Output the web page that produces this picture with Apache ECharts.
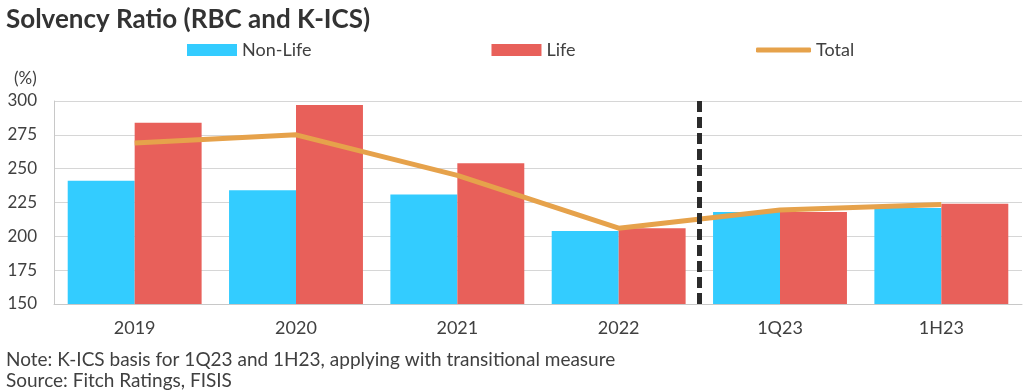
<!DOCTYPE html>
<html><head><meta charset="utf-8">
<script src="https://cdn.jsdelivr.net/npm/echarts@6/dist/echarts.min.js"></script>
<style>html,body{margin:0;padding:0;background:#fff}#c{width:1024px;height:390px}</style>
</head><body><div id="c"></div>
<script>
const categories = ['2019','2020','2021','2022','1Q23','1H23'];
const nonLife = [241, 234, 231, 204, 218, 221];
const life = [284, 297, 254, 206, 218, 224];
const total = [269, 275, 245, 206, 219.5, 223.5];
const yTicks = [150, 175, 200, 225, 250, 275, 300];
const dividerPosition = [4];

const font = 'Lato, "Noto Sans", sans-serif';
const txt = '#404040';
const chart = echarts.init(document.getElementById('c'));
chart.setOption({
  animation: false,
  textStyle: {fontFamily: font},
  title: [
    {text: 'Solvency Ratio (RBC and K-ICS)', left: 1, top: 2,
     textStyle: {fontFamily: font, fontSize: 26, fontWeight: 'bold', color: '#333'}},
    {text: '(%)', left: 9, top: 65, textStyle: {fontFamily: font, fontSize: 17, fontWeight: 'normal', color: txt}},
    {text: 'Note: K-ICS basis for 1Q23 and 1H23, applying with transitional measure', left: 1, top: 345,
     textStyle: {fontFamily: font, fontSize: 19, fontWeight: 'normal', color: txt}},
    {text: 'Source: Fitch Ratings, FISIS', left: 1, top: 366,
     textStyle: {fontFamily: font, fontSize: 19, fontWeight: 'normal', color: txt}}
  ],
  legend: [
    {top: 36, left: 182, itemGap: 180, itemWidth: 50, itemHeight: 12,
     textStyle: {fontFamily: font, fontSize: 18, color: txt},
     data: [{name: 'Non-Life', icon: 'rect'}, {name: 'Life', icon: 'rect'}]},
    {top: 36, left: 751, itemWidth: 55, itemHeight: 5,
     textStyle: {fontFamily: font, fontSize: 18, color: txt},
     data: [{name: 'Total', icon: 'roundRect'}]}
  ],
  grid: {left: 54, right: 2, top: 101, bottom: 86},
  xAxis: [
    {type: 'category', data: categories,
     axisLine: {lineStyle: {color: '#c8c8c8'}}, axisTick: {show: false},
     axisLabel: {fontFamily: font, fontSize: 18, color: txt, margin: 15}},
    {type: 'value', min: 0, max: categories.length, show: false}
  ],
  yAxis: {type: 'value', min: yTicks[0], max: yTicks[yTicks.length-1], interval: 25,
    axisLine: {show: true, lineStyle: {color: '#c8c8c8'}}, axisTick: {show: false},
    splitLine: {lineStyle: {color: '#d6d6d6', width: 1}},
    axisLabel: {fontFamily: font, fontSize: 17, color: txt, margin: 17}},
  series: [
    {name: 'Non-Life', type: 'bar', data: nonLife, barGap: '0%', barCategoryGap: '17%',
     itemStyle: {color: '#33CCFF'}},
    {name: 'Life', type: 'bar', data: life, itemStyle: {color: '#E8605A'}},
    {name: 'Total', type: 'line', data: total, symbol: 'none',
     lineStyle: {color: '#E6A24B', width: 5}, itemStyle: {color: '#E6A24B'}},
    {name: 'divider', type: 'line', xAxisIndex: 1, data: [], silent: true,
     markLine: {symbol: 'none', silent: true, label: {show: false},
       lineStyle: {color: '#2b2b2b', width: 5, type: [11, 5]},
       data: dividerPosition.map(v => ({xAxis: v}))}}
  ]
});
</script></body></html>
